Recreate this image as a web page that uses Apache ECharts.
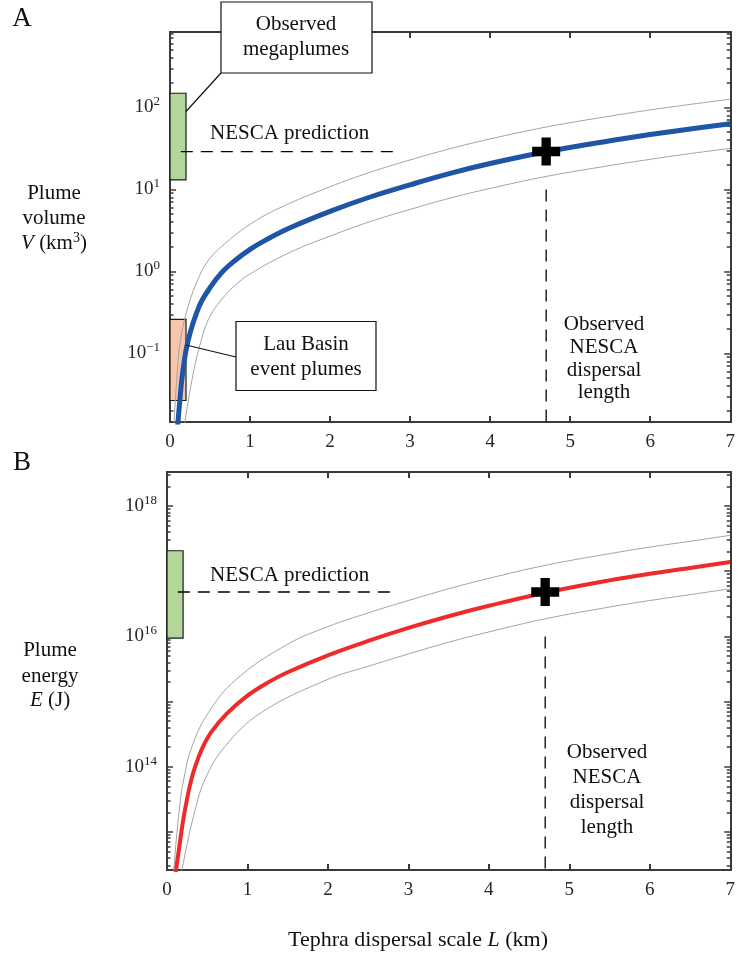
<!DOCTYPE html>
<html><head><meta charset="utf-8">
<script src="https://cdn.jsdelivr.net/npm/echarts@6/dist/echarts.min.js"></script>
<style>html,body{margin:0;padding:0;background:#fff}#c{width:738px;height:956px}</style>
</head><body><div id="c"></div>
<script>
// ---------- data ----------
const xTicks = [0, 1, 2, 3, 4, 5, 6, 7];

// Panel A: plume volume V (km^3) vs tephra dispersal scale L (km)
const aL_mid = [0.09, 0.10, 0.116, 0.157, 0.227, 0.364, 0.5, 0.64, 0.8, 1.0, 1.2, 1.5, 2.0, 2.5, 3.0, 3.5, 4.0, 4.7, 5.5, 6.0, 6.5, 7.0];
const aV_mid = [0.0107, 0.0146, 0.0224, 0.0569, 0.1445, 0.375, 0.634, 0.955, 1.33, 1.86, 2.43, 3.41, 5.41, 8.09, 11.4, 15.7, 20.7, 28.8, 39.3, 46.7, 54.7, 63.2];
const aL_hi = [0.045, 0.062, 0.09, 0.13, 0.227, 0.37, 0.5, 0.7, 1.0, 1.36, 2.0, 2.5, 3.0, 3.5, 4.0, 4.7, 5.5, 6.0, 6.5, 7.0];
const aV_hi = [0.01, 0.0224, 0.0569, 0.1445, 0.375, 0.891, 1.45, 2.24, 3.76, 5.89, 10.8, 16.2, 22.9, 31.4, 41.3, 57.7, 78.5, 93.3, 109, 126];
const aL_lo = [0.17, 0.186, 0.29, 0.39, 0.48, 0.6, 0.8, 1.0, 1.5, 2.0, 2.5, 3.0, 3.5, 4.0, 4.7, 5.5, 6.0, 6.5, 7.0];
const aV_lo = [0.0111, 0.0146, 0.0569, 0.1445, 0.26, 0.40, 0.66, 0.933, 1.71, 2.70, 4.05, 5.71, 7.85, 10.3, 14.4, 19.6, 23.3, 27.4, 31.6];
const aMegaplumes = [13.1, 149];      // observed megaplume volume range
const aLauBasin = [0.0267, 0.26];     // Lau Basin event plume range
const aNescaV = 29;                   // NESCA prediction
const aNescaL = 4.7;                  // observed NESCA dispersal length
const aLabelExp = [-1, 0, 1, 2];

// Panel B: plume energy E (J)
const bL_mid = [0.10, 0.113, 0.154, 0.187, 0.228, 0.29, 0.35, 0.433, 0.55, 0.74, 1.0, 1.25, 1.5, 2.0, 2.5, 3.0, 3.5, 4.0, 4.7, 5.5, 6.0, 6.5, 7.0];
const bE_mid = [1.78e12, 2.63e12, 6.03e12, 1.17e13, 2.34e13, 5.5e13, 1.0e14, 1.86e14, 3.39e14, 6.46e14, 1.23e15, 1.95e15, 2.82e15, 5.13e15, 8.51e15, 1.35e16, 2.04e16, 2.95e16, 4.68e16, 7.24e16, 9.12e16, 1.12e17, 1.38e17];
const bL_hi = [0.06, 0.084, 0.154, 0.207, 0.31, 0.515, 0.86, 1.5, 2.0, 2.5, 3.0, 3.5, 4.0, 4.7, 5.5, 6.0, 6.5, 7.0];
const bE_hi = [8.9e11, 2.63e12, 2.24e13, 6.3e13, 2.04e14, 6.76e14, 2.19e15, 7.59e15, 1.41e16, 2.29e16, 3.55e16, 5.37e16, 7.76e16, 1.23e17, 1.86e17, 2.34e17, 2.88e17, 3.55e17];
const bL_lo = [0.17, 0.187, 0.243, 0.34, 0.47, 0.72, 1.17, 2.0, 2.5, 3.0, 3.5, 4.0, 4.7, 5.5, 6.0, 6.5, 7.0];
const bE_lo = [2.0e12, 2.63e12, 5.89e12, 1.95e13, 6.31e13, 2.04e14, 6.76e14, 2.19e15, 3.47e15, 5.37e15, 8.13e15, 1.17e16, 1.86e16, 2.82e16, 3.55e16, 4.37e16, 5.37e16];
const bMegaplumes = [9.4e15, 2.06e17];
const bNescaE = 4.8e16;
const bNescaL = 4.7;
const bLabelExp = [14, 16, 18];

// ---------- styling / layout ----------
const F = "'Liberation Serif','Times New Roman',serif";
const AX = '#3a3a3a';
const A_MIN = 0.01459, A_MAX = 832;
const B_MIN = 2.6e12, B_MAX = 3.33e18;

function majors(min, max) {
  const out = [];
  for (let e = Math.floor(Math.log10(min)); e <= Math.ceil(Math.log10(max)); e++) {
    const v = Math.pow(10, e); if (v >= min && v <= max) out.push(v);
  }
  return out;
}
function minors(min, max) {
  const out = [];
  for (let e = Math.floor(Math.log10(min)); e <= Math.ceil(Math.log10(max)); e++) {
    for (let m = 2; m <= 9; m++) { const v = m * Math.pow(10, e); if (v >= min && v <= max) out.push(v); }
  }
  return out;
}
function expFmt(v) {
  const e = Math.round(Math.log10(v));
  return '{b|10}{s|' + (e < 0 ? '\u2212' + (-e) : e) + '}';
}
const zip = (xs, ys) => xs.map((x, i) => [x, ys[i]]);

function xAx(gi, pos, labels) {
  return {
    type: 'value', gridIndex: gi, position: pos, min: 0, max: 7, interval: 1,
    axisLine: { show: true, onZero: false, lineStyle: { color: AX, width: 2 } },
    axisTick: { show: true, inside: true, length: 6, lineStyle: { color: AX, width: 2 } },
    axisLabel: { show: labels, margin: 11, color: '#262626', fontFamily: F, fontSize: 19 },
    splitLine: { show: false }
  };
}
function yAx(gi, pos, min, max, tickVals, len, labelVals) {
  return {
    type: 'log', logBase: 10, gridIndex: gi, position: pos, min: min, max: max,
    axisLine: { show: true, onZero: false, lineStyle: { color: AX, width: 2 } },
    axisTick: { show: true, inside: true, length: len, customValues: tickVals, lineStyle: { color: AX, width: 1.5 } },
    axisLabel: labelVals ? {
      show: true, customValues: labelVals, margin: 10, formatter: expFmt,
      rich: {
        b: { fontFamily: F, fontSize: 19, color: '#262626' },
        s: { fontFamily: F, fontSize: 13, color: '#262626', padding: [0, 0, 11, 0] }
      }
    } : { show: false },
    splitLine: { show: false }, minorTick: { show: false }
  };
}
const aLabels = aLabelExp.map(e => Math.pow(10, e));
const bLabels = bLabelExp.map(e => Math.pow(10, e));

const plus = 'path://M10,0H20V10H30V20H20V30H10V20H0V10H10Z';
const dash = [12, 8];

function panelSeries(gi, L_mid, Y_mid, L_hi, Y_hi, L_lo, Y_lo, color, width, boxes, nescaY, nescaL, vTop, yMin) {
  const xi = gi * 2, yi = gi * 4;
  const base = { xAxisIndex: xi, yAxisIndex: yi, showSymbol: false, symbol: 'none', smooth: 0.4, silent: true, animation: false };
  return [
    Object.assign({}, base, { type: 'line', data: zip(L_hi, Y_hi), lineStyle: { color: '#a3a3a3', width: 1 }, z: 3 }),
    Object.assign({}, base, { type: 'line', data: zip(L_lo, Y_lo), lineStyle: { color: '#a3a3a3', width: 1 }, z: 3 }),
    Object.assign({}, base, { type: 'line', data: zip(L_mid, Y_mid), lineStyle: { color: color, width: width }, z: 4 }),
    Object.assign({}, base, { type: 'line', smooth: false, data: [[0.135, nescaY], [2.81, nescaY]], lineStyle: { color: '#000', width: 1.3, type: dash, opacity: 1 }, z: 6 }),
    Object.assign({}, base, { type: 'line', smooth: false, data: [[nescaL, vTop], [nescaL, yMin]], lineStyle: { color: '#000', width: 1.3, type: dash, opacity: 1 }, z: 6 }),
    Object.assign({}, base, {
      type: 'line', data: [], z: 5,
      markArea: { silent: true, data: boxes.map(b => [
        { xAxis: 0, yAxis: b.range[0], itemStyle: { color: b.color, opacity: 1, borderColor: '#1a1a1a', borderWidth: 1.2 } },
        { xAxis: 0.2, yAxis: b.range[1] }]) }
    }),
    { type: 'scatter', xAxisIndex: xi, yAxisIndex: yi, data: [[nescaL, nescaY]], symbol: plus, symbolSize: 28,
      itemStyle: { color: '#000', opacity: 1 }, z: 10, silent: true, animation: false }
  ];
}

const option = {
  animation: false,
  backgroundColor: '#fff',
  grid: [
    { left: 170, top: 32, width: 565, height: 390, containLabel: false },
    { left: 167, top: 472, width: 568, height: 398, containLabel: false }
  ],
  xAxis: [xAx(0, 'bottom', true), xAx(0, 'top', false), xAx(1, 'bottom', true), xAx(1, 'top', false)],
  yAxis: [
    yAx(0, 'left', A_MIN, A_MAX, majors(A_MIN, A_MAX), 6, aLabels),
    yAx(0, 'right', A_MIN, A_MAX, majors(A_MIN, A_MAX), 6, null),
    yAx(0, 'left', A_MIN, A_MAX, minors(A_MIN, A_MAX), 3.5, null),
    yAx(0, 'right', A_MIN, A_MAX, minors(A_MIN, A_MAX), 3.5, null),
    yAx(1, 'left', B_MIN, B_MAX, majors(B_MIN, B_MAX), 6, bLabels),
    yAx(1, 'right', B_MIN, B_MAX, majors(B_MIN, B_MAX), 6, null),
    yAx(1, 'left', B_MIN, B_MAX, minors(B_MIN, B_MAX), 3.5, null),
    yAx(1, 'right', B_MIN, B_MAX, minors(B_MIN, B_MAX), 3.5, null)
  ],
  series: [].concat(
    panelSeries(0, aL_mid, aV_mid, aL_hi, aV_hi, aL_lo, aV_lo, '#1f55a5', 5,
      [{ range: aMegaplumes, color: '#b3d79a' }, { range: aLauBasin, color: '#f8c6aa' }], aNescaV, aNescaL, 10, A_MIN),
    panelSeries(1, bL_mid, bE_mid, bL_hi, bE_hi, bL_lo, bE_lo, '#ee2b2b', 4,
      [{ range: bMegaplumes, color: '#b3d79a' }], bNescaE, bNescaL, 1e16, B_MIN)
  ),
  graphic: []
};

const T = (x, y, text, extra) => Object.assign({
  type: 'text', x: x, y: y, silent: true, z: 100,
  style: Object.assign({ text: text, fontFamily: F, fontSize: 21, fill: '#111', align: 'center', verticalAlign: 'middle' }, extra || {})
});
const italRich = {
  i: { fontFamily: F, fontSize: 21, fontStyle: 'italic', fill: '#111' },
  s: { fontFamily: F, fontSize: 14, fill: '#111', padding: [0, 0, 10, 0] }
};
option.graphic = [
  T(22, 19, 'A', { fontSize: 27 }),
  T(22, 463, 'B', { fontSize: 27 }),
  // y titles
  T(54, 193, 'Plume'), T(54, 218, 'volume'),
  T(54, 243, '{i|V} (km{s|3})', { rich: italRich }),
  T(50, 650, 'Plume'), T(50, 676, 'energy'),
  T(50, 700, '{i|E} (J)', { rich: italRich }),
  // x title
  T(418, 940, 'Tephra dispersal scale {i|L} (km)', { fontSize: 22, rich: { i: { fontFamily: F, fontSize: 22, fontStyle: 'italic', fill: '#111' } } }),
  // NESCA prediction labels
  T(210, 133, 'NESCA prediction', { align: 'left' }),
  T(210, 575, 'NESCA prediction', { align: 'left' }),
  // observed dispersal length
  T(604, 324, 'Observed'), T(604, 347, 'NESCA'), T(604, 370, 'dispersal'), T(604, 392, 'length'),
  T(607, 752, 'Observed'), T(607, 777, 'NESCA'), T(607, 802, 'dispersal'), T(607, 827, 'length'),
  // callout boxes
  { type: 'rect', z: 90, silent: true, shape: { x: 221, y: 2, width: 151, height: 71 }, style: { fill: '#fff', stroke: '#111', lineWidth: 1.2 } },
  T(296, 24, 'Observed'), T(296, 49, 'megaplumes'),
  { type: 'line', z: 90, silent: true, shape: { x1: 221, y1: 73, x2: 186, y2: 111.5 }, style: { stroke: '#111', lineWidth: 1.2 } },
  { type: 'rect', z: 90, silent: true, shape: { x: 236, y: 321.5, width: 140, height: 69 }, style: { fill: '#fff', stroke: '#111', lineWidth: 1.2 } },
  T(306, 344, 'Lau Basin'), T(306, 369, 'event plumes'),
  { type: 'line', z: 90, silent: true, shape: { x1: 236, y1: 357, x2: 186, y2: 345 }, style: { stroke: '#111', lineWidth: 1.2 } }
];

const chart = echarts.init(document.getElementById('c'), null, { renderer: 'canvas' });
chart.setOption(option);
</script>
</body></html>
